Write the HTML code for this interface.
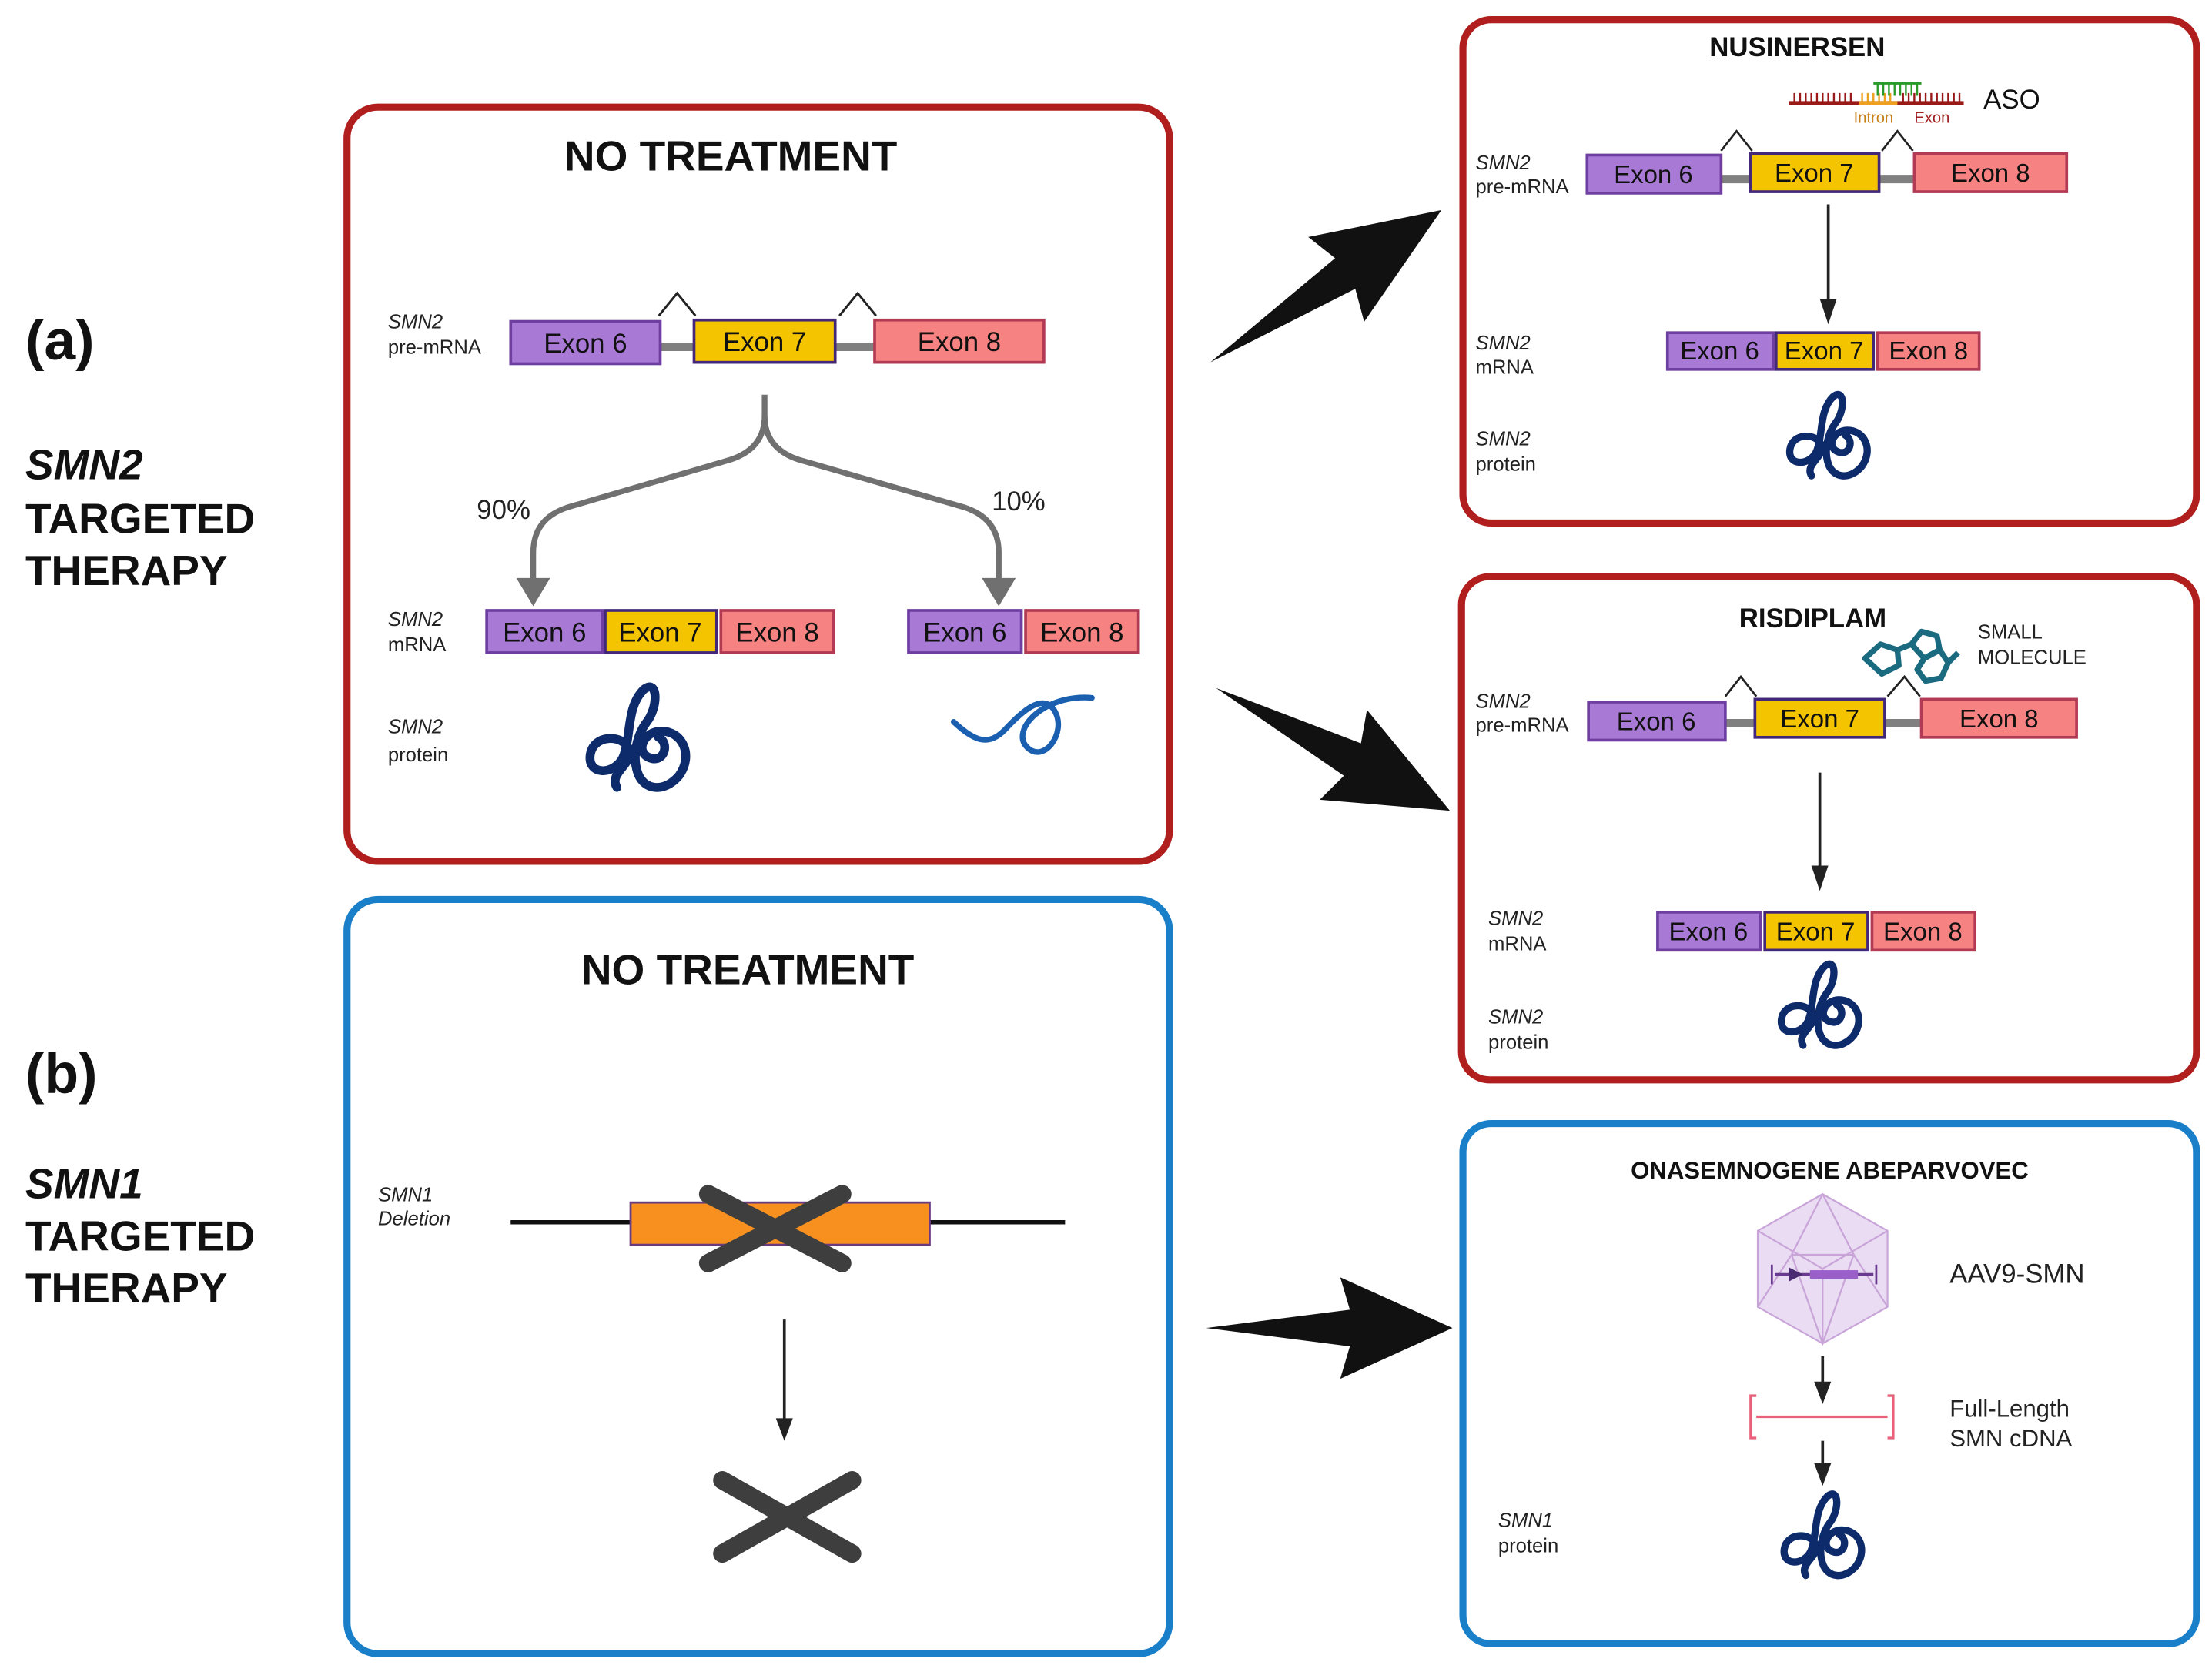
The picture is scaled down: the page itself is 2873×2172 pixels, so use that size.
<!DOCTYPE html>
<html><head><meta charset="utf-8"><style>
html,body{margin:0;padding:0;background:#fff;}
svg{display:block;}
text{font-family:"Liberation Sans",sans-serif;}
.ex{font-size:19px;fill:#111;text-anchor:middle;}
.exs{font-size:18px;fill:#111;text-anchor:middle;}
.lb{font-size:14px;fill:#222;}
.it{font-style:italic;}
.tt{font-weight:bold;font-size:30px;fill:#111;}
.side{font-weight:bold;font-size:30px;fill:#111;}
</style></head><body>
<svg width="2873" height="2172" viewBox="0 0 1568 1186" preserveAspectRatio="none" xmlns="http://www.w3.org/2000/svg">
<defs>
<g id="prot" fill="none" stroke="#0d2a6b" stroke-width="6" stroke-linecap="round">
<path d="M-14,30 C-20,20 -2,14 -6,4 C-10,-6 -30,-6 -32,8 C-34,22 -16,22 -10,10 C-4,-4 -8,-24 4,-36 C14,-44 14,-24 6,-14 C0,-6 -4,8 0,20 C4,32 18,34 28,22 C38,8 30,-8 16,-8 C4,-8 -2,6 8,10 C18,14 22,0 14,-4"/>
</g>
<polygon id="bigarrow" points="0,0 105,-13 98,-36 180,0 98,36 105,13" fill="#111"/>
</defs>

<!-- side labels -->
<text x="18" y="255" class="side" style="font-size:40px">(a)</text>
<text x="18" y="340" class="side it">SMN2</text>
<text x="18" y="378" class="side">TARGETED</text>
<text x="18" y="415" class="side">THERAPY</text>
<text x="18" y="775" class="side" style="font-size:40px">(b)</text>
<text x="18" y="850" class="side it">SMN1</text>
<text x="18" y="887" class="side">TARGETED</text>
<text x="18" y="924" class="side">THERAPY</text>

<!-- Box A -->
<rect x="246" y="76" width="583" height="535" rx="22" fill="none" stroke="#b01e1e" stroke-width="5"/>
<text x="518" y="121" class="tt" text-anchor="middle">NO TREATMENT</text>
<text x="275" y="233" class="lb it">SMN2</text>
<text x="275" y="251" class="lb">pre-mRNA</text>
<line x1="466" y1="246" x2="494" y2="246" stroke="#808080" stroke-width="6"/>
<line x1="590" y1="246" x2="622" y2="246" stroke="#808080" stroke-width="6"/>
<rect x="362" y="228" width="106" height="30" fill="#a87ad6" stroke="#6e3fa0" stroke-width="2"/>
<text x="415" y="250" class="ex">Exon 6</text>
<rect x="492" y="227" width="100" height="30" fill="#f5c400" stroke="#43287a" stroke-width="2"/>
<text x="542" y="249" class="ex">Exon 7</text>
<rect x="620" y="227" width="120" height="30" fill="#f78282" stroke="#b23a55" stroke-width="2"/>
<text x="680" y="249" class="ex">Exon 8</text>
<polyline points="467,224 480,208 493,224" fill="none" stroke="#222" stroke-width="1.6"/>
<polyline points="595,224 608,208 621,224" fill="none" stroke="#222" stroke-width="1.6"/>
<path d="M542,280 V295 Q542,318 518,326 L402,360 Q378,368 378,392 V412" fill="none" stroke="#707070" stroke-width="4"/>
<path d="M542,295 Q542,318 566,326 L684,360 Q708,368 708,392 V412" fill="none" stroke="#707070" stroke-width="4"/>
<polygon points="366,410 390,410 378,430" fill="#707070"/>
<polygon points="696,410 720,410 708,430" fill="#707070"/>
<text x="338" y="368" style="font-size:19px" fill="#222">90%</text>
<text x="703" y="362" style="font-size:19px" fill="#222">10%</text>
<text x="275" y="444" class="lb it">SMN2</text>
<text x="275" y="462" class="lb">mRNA</text>
<rect x="345" y="433" width="82" height="30" fill="#a87ad6" stroke="#6e3fa0" stroke-width="2"/><text x="386" y="455" class="ex">Exon 6</text>
<rect x="429" y="433" width="79" height="30" fill="#f5c400" stroke="#43287a" stroke-width="2"/><text x="468" y="455" class="ex">Exon 7</text>
<rect x="511" y="433" width="80" height="30" fill="#f78282" stroke="#b23a55" stroke-width="2"/><text x="551" y="455" class="ex">Exon 8</text>
<rect x="644" y="433" width="80" height="30" fill="#a87ad6" stroke="#6e3fa0" stroke-width="2"/><text x="684" y="455" class="ex">Exon 6</text>
<rect x="727" y="433" width="80" height="30" fill="#f78282" stroke="#b23a55" stroke-width="2"/><text x="767" y="455" class="ex">Exon 8</text>
<text x="275" y="520" class="lb it">SMN2</text>
<text x="275" y="540" class="lb">protein</text>
<use href="#prot" transform="translate(452,527) scale(1.05)"/>
<path d="M676,512 C690,525 700,530 712,518 C724,505 740,490 748,505 C756,520 740,542 728,530 C716,518 740,492 774,495" fill="none" stroke="#1a5fb0" stroke-width="4" stroke-linecap="round"/>

<!-- Box B -->
<rect x="246" y="638" width="583" height="535" rx="22" fill="none" stroke="#1a7fc9" stroke-width="5"/>
<text x="530" y="698" class="tt" text-anchor="middle">NO TREATMENT</text>
<text x="268" y="852" class="lb it">SMN1</text>
<text x="268" y="869" class="lb it">Deletion</text>
<line x1="362" y1="867" x2="755" y2="867" stroke="#111" stroke-width="3"/>
<rect x="447" y="853" width="212" height="30" fill="#f7901e" stroke="#6a3a80" stroke-width="1.5"/>
<g stroke="#3e3e3e" stroke-width="13" stroke-linecap="round">
<line x1="502" y1="847" x2="597" y2="896"/><line x1="502" y1="896" x2="597" y2="847"/>
<line x1="512" y1="1050" x2="604" y2="1102"/><line x1="512" y1="1102" x2="604" y2="1050"/>
</g>
<line x1="556" y1="936" x2="556" y2="1008" stroke="#222" stroke-width="2"/>
<polygon points="550,1006 562,1006 556,1022" fill="#222"/>

<!-- big arrows -->
<use href="#bigarrow" transform="translate(858,257) rotate(-33.4) scale(1.09,1)"/>
<use href="#bigarrow" transform="translate(862,488) rotate(27.7) scale(1.04,1)"/>
<use href="#bigarrow" transform="translate(855,942) scale(0.97,1)"/>

<!-- Box C Nusinersen -->
<rect x="1037" y="14" width="520" height="357" rx="20" fill="none" stroke="#b01e1e" stroke-width="5"/>
<text x="1274" y="40" text-anchor="middle" style="font-weight:bold;font-size:19px" fill="#111">NUSINERSEN</text>
<g stroke-width="1.3">
<line x1="1268" y1="73" x2="1392" y2="73" stroke="#9a1a1a" stroke-width="2.5"/>
<line x1="1318" y1="73" x2="1345" y2="73" stroke="#f0a020" stroke-width="2.5"/>
<path d="M1272,73V66M1276,73V66M1280,73V66M1284,73V66M1288,73V66M1292,73V66M1296,73V66M1300,73V66M1304,73V66M1308,73V66M1312,73V66M1349,73V66M1353,73V66M1357,73V66M1361,73V66M1365,73V66M1369,73V66M1373,73V66M1377,73V66M1381,73V66M1385,73V66M1389,73V66" stroke="#9a1a1a"/>
<path d="M1320,73V66M1324,73V66M1328,73V66M1332,73V66M1336,73V66M1340,73V66" stroke="#f0a020"/>
<line x1="1328" y1="59" x2="1362" y2="59" stroke="#2a9a2a" stroke-width="2"/>
<path d="M1331,59V68M1335,59V68M1339,59V68M1343,59V68M1347,59V68M1351,59V68M1355,59V68M1359,59V68" stroke="#2a9a2a"/>
</g>
<text x="1314" y="87" style="font-size:11px" fill="#c8801a">Intron</text>
<text x="1357" y="87" style="font-size:11px" fill="#a02020">Exon</text>
<text x="1406" y="77" style="font-size:19px" fill="#111">ASO</text>
<text x="1046" y="120" class="lb it">SMN2</text>
<text x="1046" y="137" class="lb">pre-mRNA</text>
<line x1="1219" y1="127" x2="1243" y2="127" stroke="#808080" stroke-width="6"/>
<line x1="1331" y1="127" x2="1358" y2="127" stroke="#808080" stroke-width="6"/>
<rect x="1125" y="110" width="95" height="27" fill="#a87ad6" stroke="#6e3fa0" stroke-width="2"/><text x="1172" y="130" class="exs">Exon 6</text>
<rect x="1241" y="109" width="91" height="27" fill="#f5c400" stroke="#43287a" stroke-width="2"/><text x="1286" y="129" class="exs">Exon 7</text>
<rect x="1357" y="109" width="108" height="27" fill="#f78282" stroke="#b23a55" stroke-width="2"/><text x="1411" y="129" class="exs">Exon 8</text>
<polyline points="1220,107 1231,93 1242,107" fill="none" stroke="#222" stroke-width="1.5"/>
<polyline points="1334,107 1345,93 1356,107" fill="none" stroke="#222" stroke-width="1.5"/>
<line x1="1296" y1="145" x2="1296" y2="214" stroke="#222" stroke-width="2"/>
<polygon points="1290,212 1302,212 1296,230" fill="#222"/>
<text x="1046" y="248" class="lb it">SMN2</text>
<text x="1046" y="265" class="lb">mRNA</text>
<rect x="1182" y="236" width="75" height="26" fill="#a87ad6" stroke="#6e3fa0" stroke-width="2"/><text x="1219" y="255" class="exs">Exon 6</text>
<rect x="1259" y="236" width="69" height="26" fill="#f5c400" stroke="#43287a" stroke-width="2"/><text x="1293" y="255" class="exs">Exon 7</text>
<rect x="1331" y="236" width="72" height="26" fill="#f78282" stroke="#b23a55" stroke-width="2"/><text x="1367" y="255" class="exs">Exon 8</text>
<text x="1046" y="316" class="lb it">SMN2</text>
<text x="1046" y="334" class="lb">protein</text>
<use href="#prot" transform="translate(1296,312) scale(0.85)"/>

<!-- Box D Risdiplam -->
<rect x="1036" y="409" width="521" height="357" rx="20" fill="none" stroke="#b01e1e" stroke-width="5"/>
<text x="1285" y="445" text-anchor="middle" style="font-weight:bold;font-size:19px" fill="#111">RISDIPLAM</text>
<text x="1402" y="453" style="font-size:14px" fill="#222">SMALL</text>
<text x="1402" y="471" style="font-size:14px" fill="#222">MOLECULE</text>
<g fill="none" stroke="#1a6a80" stroke-width="4" stroke-linejoin="round">
<polygon points="1322,467 1333,457 1345,461 1346,472 1334,478"/>
<polygon points="1355,457 1362,448 1373,451 1375,461 1364,467"/>
<polygon points="1364,467 1375,461 1381,470 1376,481 1365,483 1359,475"/>
<line x1="1345" y1="461" x2="1355" y2="457"/><line x1="1381" y1="470" x2="1388" y2="463"/>
</g>
<text x="1046" y="502" class="lb it">SMN2</text>
<text x="1046" y="519" class="lb">pre-mRNA</text>
<line x1="1221" y1="513" x2="1246" y2="513" stroke="#808080" stroke-width="6"/>
<line x1="1335" y1="513" x2="1363" y2="513" stroke="#808080" stroke-width="6"/>
<rect x="1126" y="498" width="97" height="27" fill="#a87ad6" stroke="#6e3fa0" stroke-width="2"/><text x="1174" y="518" class="exs">Exon 6</text>
<rect x="1244" y="496" width="92" height="27" fill="#f5c400" stroke="#43287a" stroke-width="2"/><text x="1290" y="516" class="exs">Exon 7</text>
<rect x="1362" y="496" width="110" height="27" fill="#f78282" stroke="#b23a55" stroke-width="2"/><text x="1417" y="516" class="exs">Exon 8</text>
<polyline points="1223,494 1234,480 1245,494" fill="none" stroke="#222" stroke-width="1.5"/>
<polyline points="1338,494 1350,480 1361,494" fill="none" stroke="#222" stroke-width="1.5"/>
<line x1="1290" y1="548" x2="1290" y2="616" stroke="#222" stroke-width="2"/>
<polygon points="1284,614 1296,614 1290,632" fill="#222"/>
<text x="1055" y="656" class="lb it">SMN2</text>
<text x="1055" y="674" class="lb">mRNA</text>
<rect x="1175" y="647" width="73" height="27" fill="#a87ad6" stroke="#6e3fa0" stroke-width="2"/><text x="1211" y="667" class="exs">Exon 6</text>
<rect x="1251" y="647" width="73" height="27" fill="#f5c400" stroke="#43287a" stroke-width="2"/><text x="1287" y="667" class="exs">Exon 7</text>
<rect x="1327" y="647" width="73" height="27" fill="#f78282" stroke="#b23a55" stroke-width="2"/><text x="1363" y="667" class="exs">Exon 8</text>
<text x="1055" y="726" class="lb it">SMN2</text>
<text x="1055" y="744" class="lb">protein</text>
<use href="#prot" transform="translate(1290,716) scale(0.85)"/>

<!-- Box E Onasemnogene -->
<rect x="1037" y="797" width="520" height="369" rx="20" fill="none" stroke="#1a7fc9" stroke-width="5"/>
<text x="1297" y="836" text-anchor="middle" style="font-weight:bold;font-size:17px" fill="#111">ONASEMNOGENE ABEPARVOVEC</text>
<g stroke="#c8a4d8" stroke-width="1.2" fill="none">
<polygon points="1292,847 1338,873 1338,927 1292,953 1246,927 1246,873" fill="#eadcf2"/>
<polyline points="1246,873 1292,900 1338,873"/><line x1="1292" y1="900" x2="1292" y2="953"/>
<polyline points="1292,847 1270,890 1246,927"/><polyline points="1292,847 1314,890 1338,927"/>
<polyline points="1270,890 1314,890 1292,953 1270,890"/>
</g>
<line x1="1258" y1="904" x2="1328" y2="904" stroke="#6a3a90" stroke-width="2"/>
<rect x="1283" y="901" width="34" height="6" fill="#9a60c8"/>
<polygon points="1268,899 1278,904 1268,909" fill="#4a2a70"/>
<path d="M1256,897V911M1330,897V911" stroke="#6a3a90" stroke-width="1.5"/>
<text x="1382" y="910" style="font-size:19px" fill="#222">AAV9-SMN</text>
<line x1="1292" y1="962" x2="1292" y2="982" stroke="#222" stroke-width="2"/>
<polygon points="1286,980 1298,980 1292,996" fill="#222"/>
<g fill="none" stroke="#e8607a" stroke-width="1.8">
<line x1="1245" y1="1005" x2="1338" y2="1005"/>
<path d="M1245,990 H1241 V1020 H1245 M1338,990 H1342 V1020 H1338"/>
</g>
<text x="1382" y="1005" style="font-size:17px" fill="#222">Full-Length</text>
<text x="1382" y="1026" style="font-size:17px" fill="#222">SMN cDNA</text>
<line x1="1292" y1="1022" x2="1292" y2="1040" stroke="#222" stroke-width="2"/>
<polygon points="1286,1038 1298,1038 1292,1054" fill="#222"/>
<text x="1062" y="1083" class="lb it">SMN1</text>
<text x="1062" y="1101" class="lb">protein</text>
<use href="#prot" transform="translate(1292,1092) scale(0.85)"/>
</svg>
</body></html>
